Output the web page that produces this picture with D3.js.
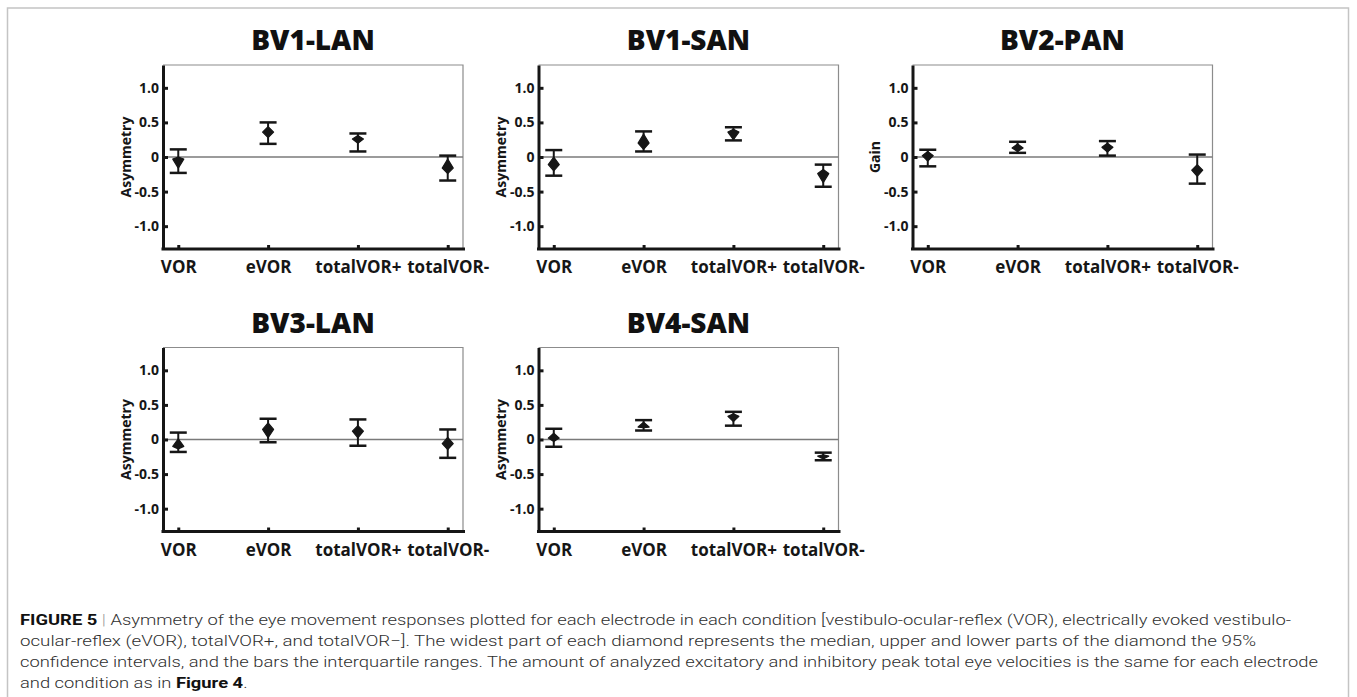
<!DOCTYPE html>
<html><head><meta charset="utf-8">
<script src="https://cdn.jsdelivr.net/npm/d3@7"></script>
<style>body{margin:0;background:#fff}svg{display:block}</style>
</head><body><svg id="c" width="1357" height="697"></svg>
<script>
// ---------------- data ----------------
const categories = ["VOR", "eVOR", "totalVOR+", "totalVOR-"];
const panelTitles = ["BV1-LAN", "BV1-SAN", "BV2-PAN", "BV3-LAN", "BV4-SAN"];
const yAxisLabels = ["Asymmetry", "Asymmetry", "Gain", "Asymmetry", "Asymmetry"];
const yTickValues = [-1.0, -0.5, 0, 0.5, 1.0];
const yTickLabels = ["-1.0", "-0.5", "0", "0.5", "1.0"];
const yDomain = [-1.33, 1.33];

// medians (widest part of diamond), per panel, per category
const medians = [
  [-0.03, 0.36, 0.26, -0.16],
  [-0.11, 0.20, 0.36, -0.24],
  [0.02, 0.13, 0.14, -0.19],
  [-0.10, 0.145, 0.12, -0.06],
  [0.02, 0.18, 0.335, -0.24]
];
// upper 95% CI (top of diamond)
const ciHigh = [
  [0.00, 0.44, 0.31, -0.03],
  [0.00, 0.33, 0.40, -0.18],
  [0.08, 0.19, 0.20, -0.11],
  [0.01, 0.24, 0.20, 0.03],
  [0.09, 0.25, 0.37, -0.22]
];
// lower 95% CI (bottom of diamond)
const ciLow = [
  [-0.16, 0.28, 0.20, -0.24],
  [-0.20, 0.11, 0.25, -0.37],
  [-0.06, 0.08, 0.07, -0.28],
  [-0.135, 0.025, 0.025, -0.145],
  [-0.03, 0.17, 0.26, -0.28]
];
// interquartile range: upper (q3) and lower (q1)
const q3 = [
  [0.11, 0.50, 0.34, 0.02],
  [0.10, 0.37, 0.43, -0.11],
  [0.105, 0.22, 0.23, 0.035],
  [0.10, 0.30, 0.29, 0.145],
  [0.155, 0.28, 0.40, -0.19]
];
const q1 = [
  [-0.23, 0.19, 0.08, -0.34],
  [-0.27, 0.08, 0.24, -0.43],
  [-0.135, 0.06, 0.02, -0.385],
  [-0.18, -0.04, -0.09, -0.265],
  [-0.105, 0.13, 0.20, -0.30]
];

const captionLines = [
  [["FIGURE 5", true], [" | ", "sep"], ["Asymmetry of the eye movement responses plotted for each electrode in each condition [vestibulo-ocular-reflex (VOR), electrically evoked vestibulo-", false]],
  [["ocular-reflex (eVOR), totalVOR+, and totalVOR\u2212]. The widest part of each diamond represents the median, upper and lower parts of the diamond the 95%", false]],
  [["confidence intervals, and the bars the interquartile ranges. The amount of analyzed excitatory and inhibitory peak total eye velocities is the same for each electrode", false]],
  [["and condition as in ", false], ["Figure 4", true], [".", false]]
];

// ---------------- layout ----------------
const svg = d3.select("#c");
const W = 300, H = 184;
const colLeft = [163, 538.5, 912.5];
const rowTop = [65, 347.5];
const ink = "#161616";
const FONT = "'Open Sans', 'DejaVu Sans', sans-serif";

// outer frame
svg.append("rect").attr("x", 7.5).attr("y", 8).attr("width", 1341).attr("height", 710)
  .attr("fill", "none").attr("stroke", "#c4c4c4").attr("stroke-width", 1.5);

panelTitles.forEach((title, p) => {
  const L = colLeft[p % 3], T = rowTop[Math.floor(p / 3)];
  const g = svg.append("g");
  const x = d3.scalePoint().domain(categories).range([L, L + W]).padding(0.17);
  const y = d3.scaleLinear().domain(yDomain).range([T + H, T]);

  // thin top/right frame
  g.append("path").attr("d", `M${L},${T}H${L + W}V${T + H}`)
    .attr("fill", "none").attr("stroke", "#8c8c8c").attr("stroke-width", 1.2);
  // zero line
  g.append("line").attr("x1", L).attr("x2", L + W).attr("y1", y(0)).attr("y2", y(0))
    .attr("stroke", "#7a7a7a").attr("stroke-width", 1.6);

  // left axis
  const ya = g.append("g").attr("transform", `translate(${L},0)`)
    .call(d3.axisLeft(y).tickValues(yTickValues).tickFormat((d, i) => yTickLabels[i])
      .tickSizeInner(-5).tickSizeOuter(0).tickPadding(4));
  ya.select(".domain").attr("stroke", ink).attr("stroke-width", 3);
  ya.selectAll(".tick line").attr("stroke", ink).attr("stroke-width", 3);
  ya.selectAll(".tick text").attr("fill", ink).style("font", `bold 14px ${FONT}`);

  // bottom axis
  const xa = g.append("g").attr("transform", `translate(0,${T + H})`)
    .call(d3.axisBottom(x).tickSizeInner(-4).tickSizeOuter(0).tickPadding(12));
  xa.select(".domain").attr("stroke", ink).attr("stroke-width", 3)
    .attr("d", `M${L - 1.5},0H${L + W + 2}`);
  xa.selectAll(".tick line").attr("stroke", ink).attr("stroke-width", 3);
  xa.selectAll(".tick text").attr("fill", ink).style("font", `bold 17px ${FONT}`);

  // title
  g.append("text").attr("x", L + W / 2).attr("y", T - 15).attr("text-anchor", "middle")
    .attr("fill", "#111").style("font", `800 28px ${FONT}`).text(title);

  // y label
  g.append("text").attr("transform", `translate(${L - 38},${y(0)}) rotate(-90)`)
    .attr("text-anchor", "middle").attr("dominant-baseline", "central")
    .attr("fill", ink).style("font", `bold 14px ${FONT}`).text(yAxisLabels[p]);

  // marks
  categories.forEach((c, i) => {
    const cx = x(c);
    const m = g.append("g");
    m.append("line").attr("x1", cx).attr("x2", cx).attr("y1", y(q1[p][i])).attr("y2", y(q3[p][i]))
      .attr("stroke", ink).attr("stroke-width", 2);
    [q1[p][i], q3[p][i]].forEach(v => {
      m.append("line").attr("x1", cx - 8.5).attr("x2", cx + 8.5).attr("y1", y(v)).attr("y2", y(v))
        .attr("stroke", ink).attr("stroke-width", 2.5);
    });
    const hw = 5.5;
    m.append("path")
      .attr("d", `M${cx},${y(ciHigh[p][i])}L${cx + hw},${y(medians[p][i])}L${cx},${y(ciLow[p][i])}L${cx - hw},${y(medians[p][i])}Z`)
      .attr("fill", ink).attr("stroke", ink).attr("stroke-width", 1.2).attr("stroke-linejoin", "round");
  });
});

// caption
const capFont = "'Liberation Sans Narrow', 'Roboto', 'Liberation Sans', sans-serif";
const capBase = [625, 646, 667, 688];
const capTargets = [1271, 1236, 1298, null];
let ratio = 1;
captionLines.forEach((segs, li) => {
  const t = svg.append("text").attr("x", 20).attr("y", capBase[li])
    .style("font-family", capFont).style("font-size", "14.5px").style("font-weight", 300).attr("fill", "#2f2f2f");
  segs.forEach(([s, b]) => {
    const ts = t.append("tspan").text(s);
    if (b === true) ts.style("font-weight", 700).attr("fill", "#111");
    if (b === "sep") ts.attr("fill", "#9a9a9a");
  });
  const nat = t.node().getComputedTextLength();
  if (capTargets[li]) { ratio = capTargets[li] / nat; t.attr("textLength", capTargets[li]); }
  else t.attr("textLength", nat * ratio);
  t.attr("lengthAdjust", "spacingAndGlyphs");
});
</script></body></html>
